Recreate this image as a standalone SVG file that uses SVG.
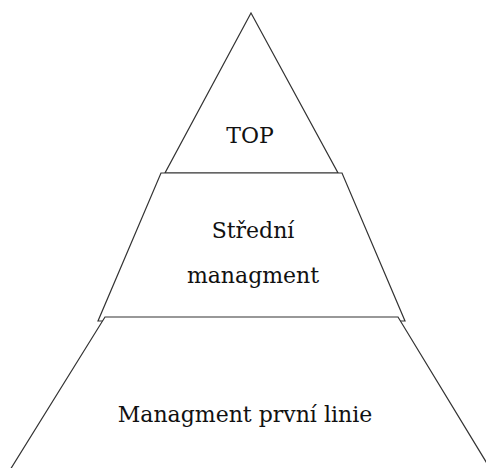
<svg xmlns="http://www.w3.org/2000/svg" width="486" height="468" viewBox="0 0 486 468">
<style>
.s{fill:#fff;stroke:#333;stroke-width:1.2;stroke-linejoin:miter}
.t{font-family:"DejaVu Serif","Liberation Serif",serif;font-size:22px;fill:#111;text-anchor:middle}
</style>
<rect width="486" height="468" fill="#fff"/>
<g id="top">
<polygon class="s" points="251,13 338,173 165,173"/>
<text class="t" x="250" y="143">TOP</text>
</g>
<g id="middle">
<polygon class="s" points="161,173 342,173 405,321 98,321"/>
<text class="t" x="253" y="238">Střední</text>
<text class="t" x="253" y="283">managment</text>
</g>
<g id="bottom">
<polygon class="s" points="105,317 398,317 491,470 10,470"/>
<text class="t" x="245" y="422">Managment první linie</text>
</g>
</svg>
